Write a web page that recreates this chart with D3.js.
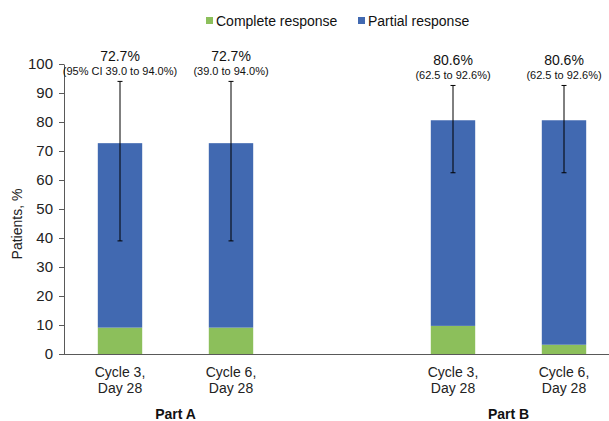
<!DOCTYPE html>
<html><head><meta charset="utf-8">
<script src="https://cdn.jsdelivr.net/npm/d3@7"></script>
<style>body{margin:0;background:#fff;} svg{display:block;font-family:Arial,"Liberation Sans",sans-serif;}</style>
</head><body>
<svg id="c" width="609" height="421"></svg>
<script>
const slots = ["A1","A2","gap","B1","B2"];
const barSlots = ["A1","A2","B1","B2"];
const line1 = ["Cycle 3,","Cycle 6,","Cycle 3,","Cycle 6,"];
const line2 = ["Day 28","Day 28","Day 28","Day 28"];
const complete = [9.1, 9.1, 9.7, 3.2];
const partial = [63.6, 63.6, 70.9, 77.4];
const totalLabels = ["72.7%","72.7%","80.6%","80.6%"];
const ciLabels = ["(95% CI 39.0 to 94.0%)","(39.0 to 94.0%)","(62.5 to 92.6%)","(62.5 to 92.6%)"];
const ciLow = [39.0, 39.0, 62.5, 62.5];
const ciHigh = [94.0, 94.0, 92.6, 92.6];
const groups = [{name:"Part A", members:["A1","A2"]},{name:"Part B", members:["B1","B2"]}];
const yTicks = [0,10,20,30,40,50,60,70,80,90,100];
const seriesNames = ["Complete response","Partial response"];
const colors = ["#8CBF5B","#4169B1"];

const svg = d3.select("#c");
const x = d3.scaleBand().domain(slots).range([64.5, 619.5]).paddingInner(0.6).paddingOuter(0.3);
const y = d3.scaleLinear().domain([0,100]).range([354, 64]);

// y axis
const ya = svg.append("g").attr("transform","translate(64,0)")
  .call(d3.axisLeft(y).tickValues(yTicks).tickSize(5).tickSizeOuter(0).tickPadding(6));
ya.select(".domain").attr("stroke","#595959");
ya.selectAll(".tick line").attr("stroke","#595959");
ya.selectAll(".tick text").attr("font-size",15).attr("fill","#222").attr("font-family","Arial, Liberation Sans, sans-serif");

svg.append("text").attr("transform","translate(22,224) rotate(-90)")
  .attr("text-anchor","middle").attr("font-size",14).attr("fill","#222").text("Patients, %");

// bars
const stackData = barSlots.map((s,i)=>({slot:s, c:complete[i], p:partial[i]}));
const g = svg.append("g");
stackData.forEach((d,i)=>{
  g.append("rect").attr("x",x(d.slot)).attr("width",x.bandwidth())
    .attr("y",y(d.c)).attr("height",y(0)-y(d.c)).attr("fill",colors[0]);
  g.append("rect").attr("x",x(d.slot)).attr("width",x.bandwidth())
    .attr("y",y(d.c+d.p)).attr("height",y(d.c)-y(d.c+d.p)).attr("fill",colors[1]);
  const cx = x(d.slot)+x.bandwidth()/2;
  g.append("line").attr("x1",cx).attr("x2",cx).attr("y1",y(ciLow[i])).attr("y2",y(ciHigh[i])).attr("stroke","#000").attr("stroke-width",1);
  [ciLow[i],ciHigh[i]].forEach(v=>g.append("line").attr("x1",cx-2.5).attr("x2",cx+2.5).attr("y1",y(v)).attr("y2",y(v)).attr("stroke","#000").attr("stroke-width",1));
  g.append("text").attr("x",cx).attr("y",y(ciHigh[i])-6).attr("text-anchor","middle").attr("font-size",11).attr("fill","#111").text(ciLabels[i]);
  g.append("text").attr("x",cx).attr("y",y(ciHigh[i])-20).attr("text-anchor","middle").attr("font-size",14).attr("fill","#111").text(totalLabels[i]);
  g.append("text").attr("x",cx).attr("y",377).attr("text-anchor","middle").attr("font-size",14).attr("fill","#222").text(line1[i]);
  g.append("text").attr("x",cx).attr("y",393).attr("text-anchor","middle").attr("font-size",14).attr("fill","#222").text(line2[i]);
});

// x axis line
svg.append("line").attr("x1",64).attr("x2",609).attr("y1",354.5).attr("y2",354.5).attr("stroke","#595959");

// group labels
groups.forEach(gr=>{
  const cx = d3.mean(gr.members, m=>x(m)+x.bandwidth()/2);
  svg.append("text").attr("x",cx).attr("y",419).attr("text-anchor","middle").attr("font-size",14).attr("font-weight","bold").attr("fill","#111").text(gr.name);
});

// legend
const leg = [{x:206, tx:216},{x:358, tx:368}];
seriesNames.forEach((n,i)=>{
  svg.append("rect").attr("x",leg[i].x).attr("y",17).attr("width",7).attr("height",7).attr("fill",colors[i]);
  svg.append("text").attr("x",leg[i].tx).attr("y",26).attr("font-size",14).attr("fill","#111").text(n);
});
</script>
</body></html>
